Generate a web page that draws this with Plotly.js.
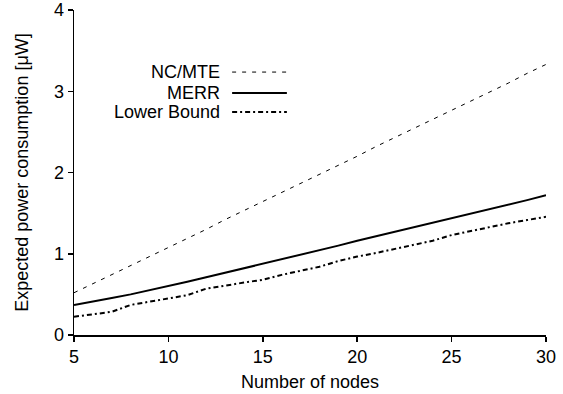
<!DOCTYPE html>
<html>
<head>
<meta charset="utf-8">
<script src="https://cdn.plot.ly/plotly-3.0.1.min.js"></script>
<style>html,body{margin:0;padding:0;background:#fff;}#chart{width:563px;height:394px;}</style>
</head>
<body>
<div id="chart"></div>
<script>
const nodes = [5,6,7,8,9,10,11,12,13,14,15,16,17,18,19,20,21,22,23,24,25,26,27,28,29,30];
const ncMte = [0.52,0.63,0.74,0.86,0.97,1.08,1.19,1.30,1.42,1.53,1.64,1.75,1.87,1.98,2.09,2.20,2.32,2.43,2.54,2.65,2.77,2.88,2.99,3.10,3.22,3.33];
const merr = [0.37,0.41,0.455,0.50,0.55,0.60,0.655,0.71,0.765,0.82,0.875,0.93,0.985,1.04,1.10,1.16,1.215,1.27,1.325,1.38,1.44,1.495,1.55,1.605,1.66,1.72];
const lowerBound = [0.225,0.255,0.285,0.37,0.41,0.45,0.49,0.57,0.61,0.645,0.68,0.74,0.79,0.84,0.91,0.965,1.01,1.06,1.11,1.16,1.23,1.28,1.33,1.375,1.415,1.455];
const seriesNames = ['NC/MTE','MERR','Lower Bound'];
const xTicks = [5,10,15,20,25,30];
const yTicks = [0,1,2,3,4];

const FONT = 'Liberation Sans, Arial, Helvetica, sans-serif';
const styles = [
  {color:'#000', width:1, dash:'4px,6px'},
  {color:'#000', width:2, dash:'solid'},
  {color:'#000', width:2, dash:'5px,3px,2px,3px'}
];
const ys = [ncMte, merr, lowerBound];
const traces = ys.map((y,i)=>({
  x: nodes, y: y, name: seriesNames[i], type:'scatter', mode:'lines',
  line: styles[i], showlegend:false, hoverinfo:'skip'
}));

// legend drawn as text + line samples (text right-aligned, sample to the right)
const legRowsY = [0.809, 0.745, 0.686];
const annotations = seriesNames.map((n,i)=>({
  xref:'paper', yref:'paper', x:0.3136, y:legRowsY[i], xanchor:'right', yanchor:'middle',
  text:n, showarrow:false, font:{family:FONT,size:18,color:'#000'}
}));
const shapes = seriesNames.map((n,i)=>({
  type:'line', xref:'paper', yref:'paper', x0:0.335, x1:0.451, y0:legRowsY[i], y1:legRowsY[i],
  line: styles[i]
}));

const layout = {
  width:563, height:394,
  margin:{l:74, r:17, t:10, b:59},
  paper_bgcolor:'#fff', plot_bgcolor:'#fff',
  font:{family:FONT, size:18, color:'#000'},
  xaxis:{
    range:[5,30], tickvals:xTicks, ticktext:xTicks.map(String),
    showgrid:false, zeroline:false, showline:true, linecolor:'#000', linewidth:1.5,
    ticks:'outside', ticklen:5, tickwidth:1.5, tickcolor:'#000',
    tickfont:{family:FONT,size:18,color:'#000'},
    title:{text:'Number of nodes', font:{family:FONT,size:18,color:'#000'}, standoff:9},
    automargin:false
  },
  yaxis:{
    range:[0,4], tickvals:yTicks, ticktext:yTicks.map(String),
    showgrid:false, zeroline:false, showline:true, linecolor:'#000', linewidth:1.5,
    ticks:'outside', ticklen:5, tickwidth:1.5, tickcolor:'#000',
    tickfont:{family:FONT,size:18,color:'#000'},
    title:{text:'Expected power consumption [\u03bcW]', font:{family:FONT,size:18,color:'#000'}, standoff:20},
    automargin:false
  },
  annotations: annotations,
  shapes: shapes,
  showlegend:false
};
Plotly.newPlot('chart', traces, layout, {displayModeBar:false, staticPlot:true});
</script>
</body>
</html>
